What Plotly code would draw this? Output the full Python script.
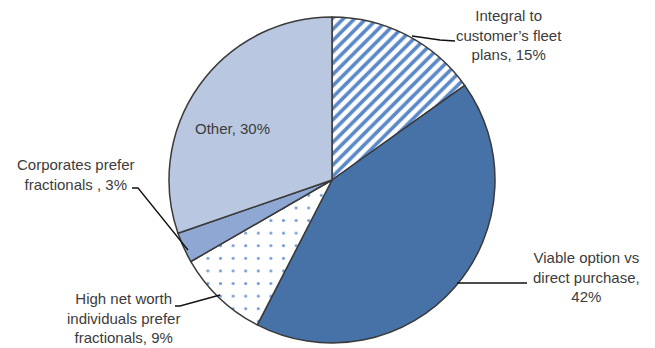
import plotly.graph_objects as go

labels = ["Integral to customer's fleet plans", "Viable option vs direct purchase",
          "High net worth individuals prefer fractionals", "Corporates prefer fractionals",
          "Other"]
values = [15, 42, 9, 3, 30]
label_texts = ["Integral to<br>customer\u2019s fleet<br>plans, 15%",
               "Viable option vs<br>direct purchase,<br>42%",
               "High net worth<br>individuals prefer<br>fractionals, 9%",
               "Corporates prefer<br>fractionals , 3%",
               "Other, 30%"]

W, H = 655, 348
def px(x):
    return x / W
def py(y):
    return 1 - y / H

fig = go.Figure(go.Pie(
    labels=labels, values=values, sort=False, direction="clockwise", rotation=0,
    textinfo="none", hoverinfo="label+percent",
    marker=dict(
        colors=["white", "#4672a8", "white", "#8ea7d3", "#b9c7e1"],
        line=dict(color="#3a3a3a", width=1.5),
        pattern=dict(
            shape=["/", "", ".", "", ""],
            fgcolor=["#5b88c8", "#4672a8", "#6f98d8", "#8ea7d3", "#b9c7e1"],
            bgcolor=["white", "#4672a8", "white", "#8ea7d3", "#b9c7e1"],
            size=[8, 8, 12.6, 8, 8],
            solidity=[0.45, 0.0, 0.045, 0.0, 0.0],
            fillmode="replace",
        ),
    ),
    domain=dict(x=[px(332 - 163), px(332 + 163)], y=[py(343), py(17)]),
    showlegend=False,
))

font = dict(family="Liberation Sans, Arial, sans-serif", size=15, color="#3c3c3c")
ann_pos = [(509, 35), (586, 277), (123, 318), (76, 174), (232, 128)]
for t, (x, y) in zip(label_texts, ann_pos):
    fig.add_annotation(x=px(x), y=py(y), xref="paper", yref="paper", text=t,
                       showarrow=False, font=font, align="center",
                       xanchor="center", yanchor="middle")

leaders = [
    [(412, 36), (440, 40), (455, 41)],
    [(457, 283), (527, 283)],
    [(220, 295), (180, 306), (175, 306)],
    [(132, 188), (138, 188), (188, 250)],
]
for pts in leaders:
    path = "M " + " L ".join(f"{px(a):.5f},{py(b):.5f}" for a, b in pts)
    fig.add_shape(type="path", path=path, xref="paper", yref="paper",
                  line=dict(color="#111111", width=1.3))

fig.update_layout(width=W, height=H, margin=dict(l=0, r=0, t=0, b=0),
                  paper_bgcolor="white", plot_bgcolor="white")
fig.write_html("out.html")
